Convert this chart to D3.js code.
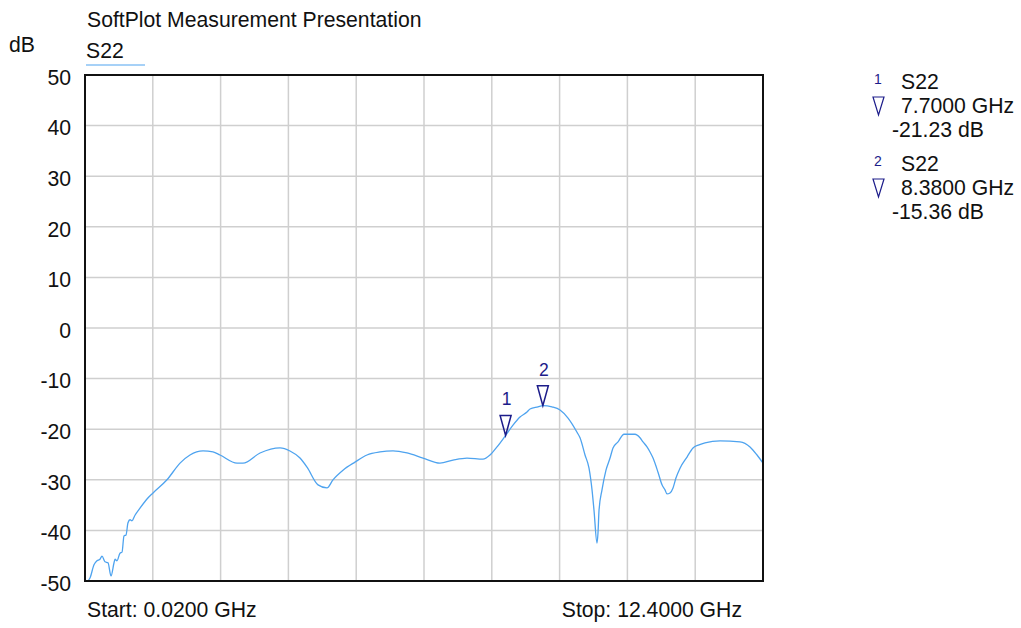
<!DOCTYPE html>
<html><head><meta charset="utf-8">
<script src="https://cdn.jsdelivr.net/npm/d3@7/dist/d3.min.js"></script>
<style>body{margin:0;background:#fff}svg{display:block;font-family:"Liberation Sans",Arial,sans-serif}</style>
</head><body><svg id="c" width="1021" height="628"></svg>
<script>
const title = "SoftPlot Measurement Presentation";
const traceName = "S22";
const yTicks = [50,40,30,20,10,0,-10,-20,-30,-40,-50];
const freqGHz = [0.02,0.06,0.111,0.184,0.239,0.294,0.330,0.385,0.440,0.495,0.550,0.568,0.604,0.659,0.696,0.732,0.769,0.805,0.842,0.878,0.933,1.024,1.152,1.262,1.517,1.755,1.937,2.175,2.357,2.485,2.796,2.905,3.216,3.581,3.763,3.946,4.074,4.275,4.439,4.548,4.731,4.950,5.169,5.407,5.644,5.900,6.192,6.502,6.740,6.995,7.287,7.415,7.543,7.70,7.835,7.963,8.091,8.146,8.292,8.38,8.547,8.694,8.840,9.004,9.059,9.150,9.223,9.278,9.314,9.369,9.387,9.406,9.460,9.533,9.607,9.661,9.753,9.862,9.917,10.063,10.154,10.209,10.282,10.337,10.392,10.483,10.556,10.611,10.647,10.702,10.757,10.812,10.885,11.013,11.122,11.232,11.341,11.615,11.980,12.163,12.291,12.40];
const s22dB = [-50,-50,-49.4,-46.8,-46.0,-45.7,-45.1,-46.2,-46.4,-49.0,-46.4,-45.7,-46.0,-44.5,-44.3,-41.1,-40.9,-38.5,-37.9,-38.1,-37.0,-35.6,-33.8,-32.6,-30.0,-26.7,-25.1,-24.3,-24.5,-25.1,-26.7,-26.7,-24.7,-23.7,-24.3,-25.7,-27.5,-31.0,-31.6,-30.0,-28.1,-26.5,-25.1,-24.5,-24.3,-24.7,-25.7,-26.7,-26.1,-25.7,-25.9,-25.1,-23.5,-21.23,-19.2,-17.6,-16.6,-16.0,-15.6,-15.36,-15.6,-16.2,-17.8,-20.6,-21.7,-25.1,-27.7,-32.0,-36.0,-42.5,-40.5,-36.0,-32.0,-28.1,-25.7,-23.7,-22.5,-21.0,-21.0,-21.0,-21.7,-22.5,-23.5,-24.5,-25.7,-28.5,-31.0,-32.0,-32.8,-32.6,-31.6,-29.6,-27.7,-25.5,-23.7,-23.1,-22.7,-22.3,-22.5,-23.5,-25.1,-26.7];
const markerIds = ["1","2"];
const markerFreq = [7.70, 8.38];
const markerDB = [-21.23, -15.36];
const startLabel = "Start: 0.0200 GHz";
const stopLabel = "Stop: 12.4000 GHz";

const svg = d3.select("#c");
const L=85, T=75, W=678, H=506;
const FS = 21.2;
const x = d3.scaleLinear().domain([0.02,12.4]).range([L,L+W]);
const y = d3.scaleLinear().domain([-50,50]).range([T+H,T]);
const traceColor = "#4ea3ef", mkColor = "#1c1c8a", gridColor = "#cfcfcf";

// grid
const xGrid = d3.range(1,10).map(i => 0.02 + i*(12.4-0.02)/10);
svg.append("g").selectAll("line").data(xGrid).join("line")
  .attr("x1",d=>x(d)).attr("x2",d=>x(d)).attr("y1",T).attr("y2",T+H)
  .attr("stroke",gridColor).attr("stroke-width",1.5);
svg.append("g").selectAll("line").data(yTicks.slice(1,-1)).join("line")
  .attr("x1",L).attr("x2",L+W).attr("y1",d=>y(d)).attr("y2",d=>y(d))
  .attr("stroke",gridColor).attr("stroke-width",1.5);

// y axis labels
const yAxis = d3.axisLeft(y).tickValues(yTicks).tickSize(0).tickPadding(14).tickFormat(d => String(d));
const ga = svg.append("g").attr("transform",`translate(${L},2.5)`).call(yAxis);
ga.select(".domain").remove();
ga.selectAll("text").attr("font-size",FS).attr("fill","#111").attr("font-family","Liberation Sans, Arial, sans-serif");

// trace
const pts = freqGHz.map((f,i)=>[f,s22dB[i]]);
svg.append("path").datum(pts)
  .attr("d", d3.line().x(d=>x(d[0])).y(d=>y(d[1])).curve(d3.curveMonotoneX))
  .attr("fill","none").attr("stroke",traceColor).attr("stroke-width",1.3);

// frame
svg.append("rect").attr("x",L).attr("y",T).attr("width",W).attr("height",H)
  .attr("fill","none").attr("stroke","#111").attr("stroke-width",2);

// markers on trace
markerIds.forEach((id,i)=>{
  const px = x(markerFreq[i]), py = y(markerDB[i]);
  svg.append("path").attr("d",`M${px-5.5},${py-20}L${px+5.5},${py-20}L${px},${py}Z`)
    .attr("fill","none").attr("stroke",mkColor).attr("stroke-width",1.5);
  svg.append("text").attr("x",px+1).attr("y",py-30).attr("text-anchor","middle")
    .attr("font-size",17.5).attr("fill",mkColor).text(id);
});

// titles
svg.append("text").attr("x",87).attr("y",27.3).attr("font-size",FS).attr("fill","#111").text(title);
svg.append("text").attr("x",9).attr("y",51.7).attr("font-size",FS).attr("fill","#111").text("dB");
svg.append("text").attr("x",86).attr("y",58.3).attr("font-size",FS).attr("fill","#111").text(traceName);
svg.append("line").attr("x1",86).attr("x2",145).attr("y1",65).attr("y2",65).attr("stroke",traceColor).attr("stroke-width",1);

// bottom labels
svg.append("text").attr("x",87).attr("y",617).attr("font-size",FS).attr("fill","#111").text(startLabel);
svg.append("text").attr("x",742).attr("y",617).attr("text-anchor","end").attr("font-size",FS).attr("fill","#111").text(stopLabel);

// marker legend
markerIds.forEach((id,i)=>{
  const by = 89 + i*82;
  svg.append("text").attr("x",878).attr("y",by-5).attr("text-anchor","middle").attr("font-size",14).attr("fill",mkColor).text(id);
  svg.append("text").attr("x",901).attr("y",by).attr("font-size",FS).attr("fill","#111").text(traceName);
  svg.append("path").attr("d",`M873,${by+8}L884,${by+8}L878.5,${by+26}Z`).attr("fill","none").attr("stroke",mkColor).attr("stroke-width",1.2);
  svg.append("text").attr("x",901).attr("y",by+24).attr("font-size",FS).attr("fill","#111").text(markerFreq[i].toFixed(4)+" GHz");
  svg.append("text").attr("x",892).attr("y",by+48).attr("font-size",FS).attr("fill","#111").text(markerDB[i].toFixed(2)+" dB");
});
</script></body></html>
